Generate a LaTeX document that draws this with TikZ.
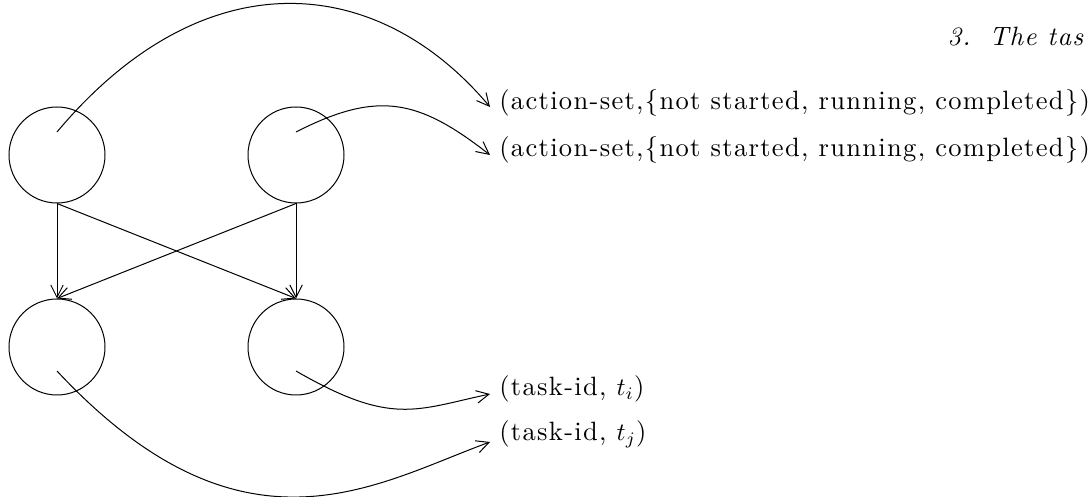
\documentclass[tikz,border=0pt]{standalone}
\usepackage{fontspec}
\setmainfont{Latin Modern Roman}[LetterSpace=5, Scale=1.06]
\usetikzlibrary{arrows.meta,calc}
\tikzset{
	state/.style = {draw, circle, minimum size=38.4pt, inner sep=0pt},
	arr/.style = {-{Straight Barb[length=5pt,width=5pt]}},
	lbl/.style = {anchor=west}
}
\begin{document}
\begin{tikzpicture}[x=0.4pt, y=0.4pt]
			\useasboundingbox (0,0) rectangle (1091,-497);
			\node[anchor=base west, inner sep=0pt] (head) at (947,-46) {\textit{3.\hspace{7.5pt}The tas}};
			
			% task states
			\node[state] (tl) at (57,-155) {};
			\node[state] (tr) at (296,-155) {};
			\node[state] (bl) at (57,-347) {};
			\node[state] (br) at (296,-347) {};
			
			% attribute labels
			\node[lbl] (as1) at (490,-103) {(action-set,\{not started, running, completed\})};
			\node[lbl] (as2) at (490,-150) {(action-set,\{not started, running, completed\})};
			\node[lbl] (ti) at (490,-389) {(task-id, $t_i$)};
			\node[lbl] (tj) at (490,-434) {(task-id, $t_j$)};
			
			\draw[arr] (tl.south) -- (bl.north);
			\draw[arr] (tl.south) -- (br.north);
			\draw[arr] (tr.south) -- (bl.north);
			\draw[arr] (tr.south) -- (br.north);
			
			\draw[arr] ($(tl)+(0,23)$) to[out=50, in=130, out looseness=1.35, in looseness=1.03] ($(as1.west)+(0,-4)$);
			\draw[arr] ($(tr)+(0,23)$) to[out=27, in=142, looseness=1.2] ($(as2.west)+(0,-5)$);
			\draw[arr] ($(br)+(0,-24)$) to[out=-30, in=192, out looseness=1.45, in looseness=1] ($(ti.west)+(0,-5)$);
			\draw[arr] ($(bl)+(0,-24)$) to[out=-47, in=200, out looseness=1.59, in looseness=0.71] ($(tj.west)+(0,-8)$);
		
		\end{tikzpicture}
\end{document}
